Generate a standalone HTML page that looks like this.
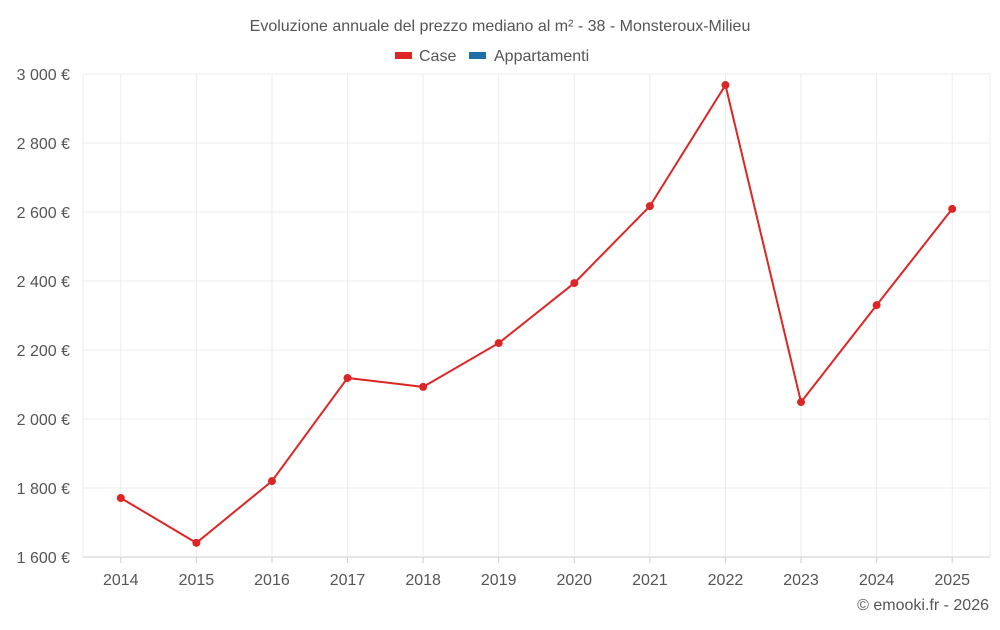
<!DOCTYPE html>
<html><head><meta charset="utf-8"><style>
body{margin:0;background:#fff;font-family:"Liberation Sans",sans-serif;}
svg text{font-family:"Liberation Sans",sans-serif;}
</style></head><body>
<svg id="chart" width="1000" height="625" viewBox="0 0 1000 625">
<text x="500" y="31" text-anchor="middle" font-size="16" fill="#555">Evoluzione annuale del prezzo mediano al m² - 38 - Monsteroux-Milieu</text>
<g><rect x="395" y="52" width="17" height="7" fill="#dc2626"/><text x="419" y="61" font-size="16" fill="#555">Case</text></g>
<g><rect x="469" y="52" width="17" height="7" fill="#1d6fa5"/><text x="494" y="61" font-size="16" fill="#555">Appartamenti</text></g>
<g id="grid"></g><g id="axes"></g><g id="series"></g>
<text x="989" y="610" text-anchor="end" font-size="16" fill="#555">© emooki.fr - 2026</text>
</svg>
<script>
const years=["2014","2015","2016","2017","2018","2019","2020","2021","2022","2023","2024","2025"];
const caseValues=[1771,1641,1820,2119,2093,2220,2394,2617,2968,2049,2330,2609];
const yTicks=[1600,1800,2000,2200,2400,2600,2800,3000];
const tickLabels=["1 600 €","1 800 €","2 000 €","2 200 €","2 400 €","2 600 €","2 800 €","3 000 €"];
const NS="http://www.w3.org/2000/svg";
const L=83,R=990,T=74,B=557;
const y=v=>B-(v-1600)/(3000-1600)*(B-T);
const step=(R-L)/years.length;
const x=i=>L+step*(i+0.5);
function mk(tag,attrs,parent){const e=document.createElementNS(NS,tag);for(const k in attrs)e.setAttribute(k,attrs[k]);document.getElementById(parent).appendChild(e);return e;}
yTicks.forEach((t,i)=>{
 const g=mk("line",{x1:L,x2:R,y1:y(t),y2:y(t),stroke:i===0?"#ccc":"#ececec","stroke-width":1},"grid");
 
 
 const tx=mk("text",{x:70,y:y(t)+6,"text-anchor":"end","font-size":16,fill:"#555"},"axes");
 tx.textContent=tickLabels[i];
 
 
});
[L,R].forEach(px=>{const g=mk("line",{x1:px,x2:px,y1:T,y2:B,stroke:"#ececec"},"grid");
 
 });
years.forEach((yr,i)=>{
 const g=mk("line",{x1:x(i),x2:x(i),y1:T,y2:B,stroke:"#ececec"},"grid");
 
 
 const tk=mk("line",{x1:x(i),x2:x(i),y1:B,y2:B+6,stroke:"#ccc"},"axes");
 
 
 const tx=mk("text",{x:x(i),y:585,"text-anchor":"middle","font-size":16,fill:"#555"},"axes");
 tx.textContent=yr;
 
 
});
const pl=mk("polyline",{points:caseValues.map((v,i)=>x(i)+","+y(v)).join(" "),fill:"none",stroke:"#dc2626","stroke-width":2},"series");


caseValues.forEach((v,i)=>{
 const c=mk("circle",{cx:x(i),cy:y(v),r:4,fill:"#dc2626"},"series");
 
 
});
</script>
</body></html>
